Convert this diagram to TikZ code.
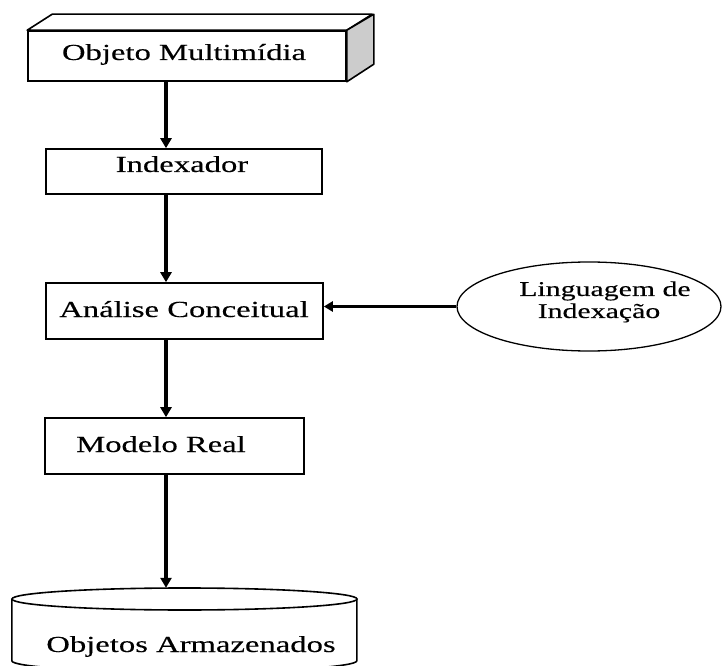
\documentclass[tikz,border=0pt]{standalone}
\usepackage{fontspec}
\setmainfont[FakeStretch=1.42, FakeBold=0.3]{Liberation Serif}
\usetikzlibrary{arrows.meta,shapes.geometric}
\begin{document}
\begin{tikzpicture}[x=1pt,y=-1pt,
  box/.style={draw, line width=1.6pt, fill=white, inner sep=0pt},
  lbl/.style={anchor=base, inner sep=0pt, font=\fontsize{23}{22}\selectfont},
  small/.style={lbl, font=\fontsize{21}{20}\selectfont},
  arr/.style={line width=3.4pt, -{Triangle[length=10pt,width=11pt]}},
  hollow/.style={inner sep=0pt, minimum width=345pt, minimum height=78pt}]
\useasboundingbox (0,0) rectangle (724,666);
\coordinate (spine) at (166,0);

% three-dimensional box for the multimedia object
\node[box, minimum width=318pt, minimum height=50pt] (obj) at (187,56) {};
\draw[line width=1.6pt, fill=white, line join=round]
  (obj.north west) -- ++(25,-16) -- ++(320,0) -- (obj.north east) -- cycle;
\draw[line width=1.6pt, fill=black!20, line join=round]
  (obj.north east) -- ++(27,-16) -- ++(0,50) -- (obj.south east) -- cycle;
\node[lbl] (objt) at (184,60) {Objeto Multimídia};

% process boxes
\node[box, minimum width=276pt, minimum height=45pt] (idx) at (184,171.5) {};
\node[lbl] (idxt) at (182,172) {Indexador};

\node[box, minimum width=277pt, minimum height=56pt] (ana) at (184.5,311) {};
\node[lbl] (anat) at (184,317) {Análise Conceitual};

\node[box, minimum width=259pt, minimum height=56pt] (mod) at (174.5,446) {};
\node[lbl] (modt) at (161,452) {Modelo Real};

% indexing language
\node[draw, ellipse, line width=1.3pt, minimum width=264pt, minimum height=89pt] (lang) at (589,306.5) {};
\node[small] (lang1) at (605,296) {Linguagem de};
\node[small] (lang2) at (599,318) {Indexação};

% storage cylinder
\node[hollow] (store) at (184.5,627) {};
\draw[line width=1.6pt] (store.north west) ++(0,11) -- ++(0,62)
  arc[start angle=180, end angle=0, x radius=172.5, y radius=11] -- ++(0,-62);
\draw[line width=1.6pt, fill=white] (184.5,599) ellipse [x radius=172.5, y radius=11];
\node[lbl] (storet) at (191,652) {Objetos Armazenados};

% connectors
\draw[arr] (obj.south -| spine) -- (idx.north -| spine);
\draw[arr] (idx.south -| spine) -- (ana.north -| spine);
\draw[arr] (ana.south -| spine) -- (mod.north -| spine);
\draw[arr] (mod.south -| spine) -- (store.north -| spine);
\draw[line width=2.8pt, -{Triangle[length=9pt,width=10pt]}] (lang.west) -- (lang.west -| ana.east);
\end{tikzpicture}
\end{document}
